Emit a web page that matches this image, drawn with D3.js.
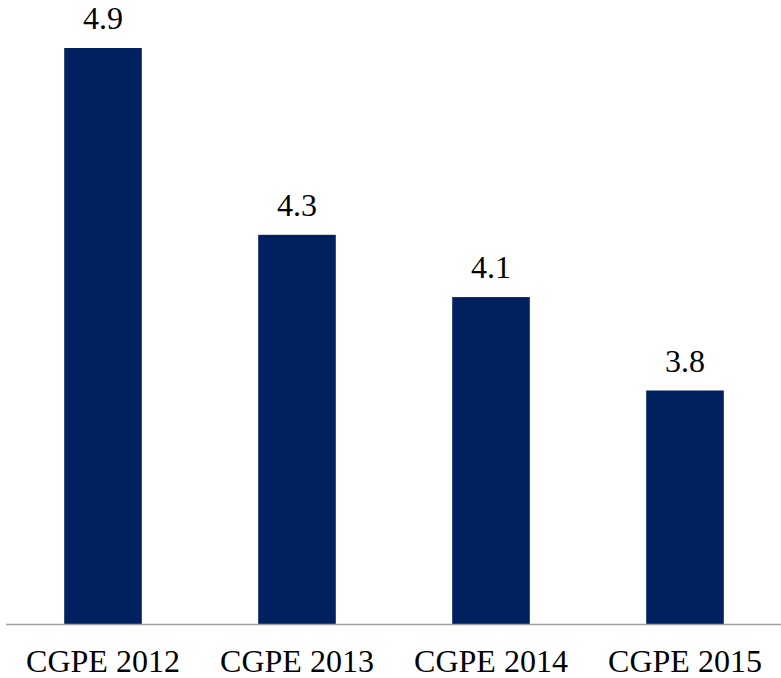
<!DOCTYPE html>
<html>
<head>
<meta charset="utf-8">
<script src="https://cdn.jsdelivr.net/npm/d3@7"></script>
<style>
  html, body { margin: 0; padding: 0; background: #ffffff; }
  svg { display: block; }
</style>
</head>
<body>
<svg id="chart" width="781" height="678"></svg>
<script>
// Survey editions and their reported values
const categories = ["CGPE 2012", "CGPE 2013", "CGPE 2014", "CGPE 2015"];
const values = [4.9, 4.3, 4.1, 3.8];
const valueLabels = ["4.9", "4.3", "4.1", "3.8"];

const FONT = "Liberation Serif";

const svg = d3.select("#chart");
const W = 781;
const baseY = 624;

const x = d3.scaleBand()
  .domain(categories)
  .range([6, 782])
  .paddingInner(0.6)
  .paddingOuter(0.3);

// Value axis is truncated (not drawn) and starts above zero
const y = d3.scaleLinear()
  .domain([3.05, 4.9])
  .range([baseY, 48]);

const data = categories.map((c, i) => ({ cat: c, v: values[i], label: valueLabels[i] }));

svg.append("g").selectAll("rect")
  .data(data)
  .join("rect")
  .attr("x", d => x(d.cat))
  .attr("width", x.bandwidth())
  .attr("y", d => y(d.v))
  .attr("height", d => baseY - y(d.v))
  .attr("fill", "#002060");

// Baseline
svg.append("line")
  .attr("x1", 6).attr("x2", W)
  .attr("y1", baseY + 0.5).attr("y2", baseY + 0.5)
  .attr("stroke", "#a0a0a0")
  .attr("stroke-width", 1.5);

// Value labels above bars
svg.append("g").selectAll("text")
  .data(data)
  .join("text")
  .attr("x", d => x(d.cat) + x.bandwidth() / 2)
  .attr("y", d => y(d.v) - 18.7)
  .attr("text-anchor", "middle")
  .style("font-family", FONT)
  .style("font-size", "32px")
  .attr("fill", "#000")
  .text(d => d.label);

// Category labels
const xAxis = d3.axisBottom(x).tickSize(0).tickPadding(0);
const gx = svg.append("g")
  .attr("transform", `translate(0,${baseY})`)
  .call(xAxis);
gx.select(".domain").remove();
gx.selectAll("text")
  .attr("y", 48)
  .attr("dy", null)
  .style("font-family", FONT)
  .style("font-size", "32px")
  .attr("fill", "#000");
</script>
</body>
</html>
